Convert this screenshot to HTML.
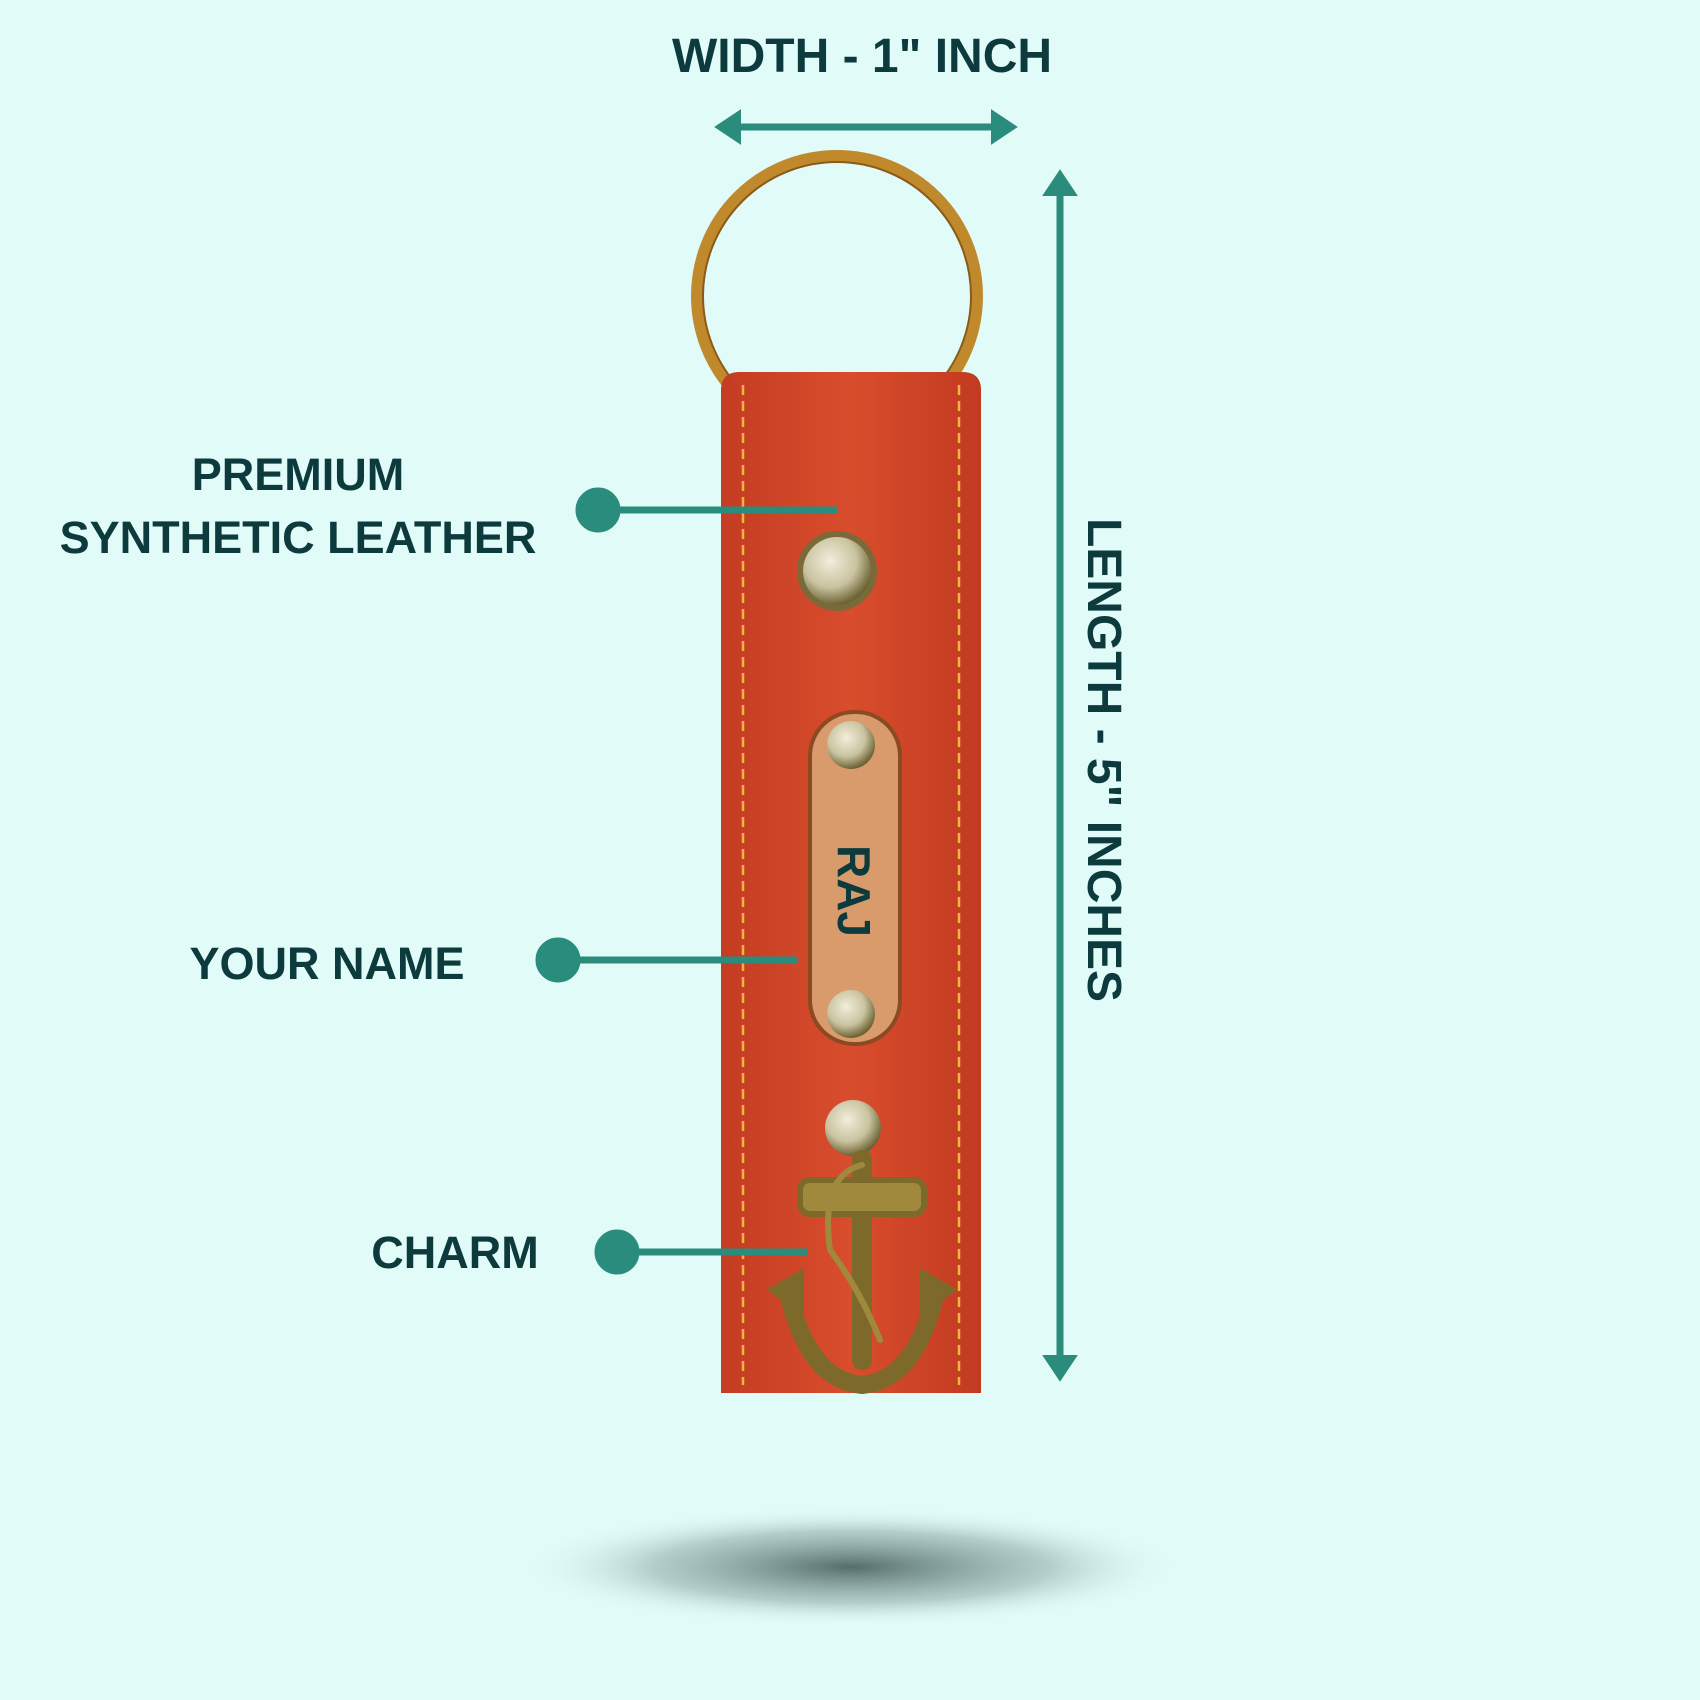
<!DOCTYPE html>
<html><head><meta charset="utf-8"><style>
html,body{margin:0;padding:0;background:#e0fbf8;}
svg{display:block;}
text{font-family:"Liberation Sans",sans-serif;font-weight:bold;fill:#0d3b3d;}
</style></head><body>
<svg width="1700" height="1700" viewBox="0 0 1700 1700" xmlns="http://www.w3.org/2000/svg">
<defs>
<radialGradient id="sh" cx="50%" cy="50%" r="50%">
<stop offset="0" stop-color="#3d5552" stop-opacity="0.85"/>
<stop offset="0.6" stop-color="#6f8a86" stop-opacity="0.4"/>
<stop offset="1" stop-color="#e0fbf8" stop-opacity="0"/>
</radialGradient>
<radialGradient id="rv" cx="40%" cy="35%" r="65%">
<stop offset="0" stop-color="#f1eedb"/>
<stop offset="0.6" stop-color="#c9c3a0"/>
<stop offset="1" stop-color="#6d6435"/>
</radialGradient>
<linearGradient id="st" x1="0" x2="1">
<stop offset="0" stop-color="#c43c22"/>
<stop offset="0.5" stop-color="#d84d2c"/>
<stop offset="1" stop-color="#c23a20"/>
</linearGradient>
</defs>
<rect width="1700" height="1700" fill="#e0fbf8"/>
<ellipse cx="851" cy="1567" rx="330" ry="60" fill="url(#sh)"/>

<!-- ring -->
<circle cx="837" cy="296" r="140" fill="none" stroke="#c08a2c" stroke-width="12"/>
<circle cx="837" cy="296" r="134" fill="none" stroke="#8a5a18" stroke-width="2"/>

<!-- strap -->
<path d="M721 390 Q721 372 740 372 L962 372 Q981 372 981 390 L981 1393 L721 1393 Z" fill="url(#st)"/>
<line x1="743" y1="385" x2="743" y2="1385" stroke="#f2b640" stroke-width="2.5" stroke-dasharray="10 6"/>
<line x1="959" y1="385" x2="959" y2="1385" stroke="#f2b640" stroke-width="2.5" stroke-dasharray="10 6"/>

<!-- rivet 1 -->
<circle cx="837" cy="571" r="40" fill="#7a6a3a"/>
<circle cx="837" cy="571" r="34" fill="url(#rv)"/>

<!-- name plate -->
<rect x="808" y="710" width="94" height="336" rx="46" fill="#8a4a22"/>
<rect x="812" y="714" width="86" height="328" rx="42" fill="#d99a6c"/>
<circle cx="851" cy="745" r="24" fill="url(#rv)"/>
<circle cx="851" cy="1014" r="24" fill="url(#rv)"/>
<text x="0" y="0" font-size="46" transform="translate(838 891) rotate(90)" text-anchor="middle">RAJ</text>

<!-- rivet 4 -->
<circle cx="853" cy="1128" r="28" fill="url(#rv)"/>

<!-- anchor -->
<g fill="none" stroke="#7d6a2a" stroke-linecap="round">
<line x1="862" y1="1160" x2="862" y2="1360" stroke-width="20"/>
<rect x="800" y="1180" width="124" height="34" rx="10" fill="#a0893c" stroke-width="6"/>
<path d="M790 1300 Q810 1380 862 1385 Q914 1380 934 1300" stroke-width="18"/>
<path d="M774 1290 L800 1275 L800 1310 Z M950 1290 L924 1275 L924 1310 Z" fill="#7d6a2a" stroke-width="8"/>
<path d="M862 1165 Q820 1175 830 1250 Q860 1290 880 1340" stroke="#a0893c" stroke-width="6"/>
</g>

<!-- width arrow -->
<g stroke="#2a8c7c" stroke-width="7" fill="#2a8c7c" stroke-linecap="round">
<line x1="728" y1="127" x2="1004" y2="127"/>
<path d="M716 127 L740 111 L740 143 Z" stroke-width="2"/>
<path d="M1016 127 L992 111 L992 143 Z" stroke-width="2"/>
<line x1="1060" y1="183" x2="1060" y2="1368"/>
<path d="M1060 171 L1044 195 L1076 195 Z" stroke-width="2"/>
<path d="M1060 1380 L1044 1356 L1076 1356 Z" stroke-width="2"/>
</g>

<text x="862" y="72" font-size="48" text-anchor="middle">WIDTH - 1" INCH</text>
<text x="0" y="0" font-size="48" transform="translate(1088 760) rotate(90)" text-anchor="middle">LENGTH - 5" INCHES</text>

<!-- labels -->
<text x="298" y="490" font-size="45" text-anchor="middle">PREMIUM</text>
<text x="298" y="553" font-size="45" text-anchor="middle">SYNTHETIC LEATHER</text>
<text x="327" y="979" font-size="45" text-anchor="middle">YOUR NAME</text>
<text x="455" y="1268" font-size="45" text-anchor="middle">CHARM</text>

<g fill="#2a8c7c" stroke="#2a8c7c">
<circle cx="598" cy="510" r="22"/><line x1="598" y1="510" x2="837" y2="510" stroke-width="7"/>
<circle cx="558" cy="960" r="22"/><line x1="558" y1="960" x2="797" y2="960" stroke-width="7"/>
<circle cx="617" cy="1252" r="22"/><line x1="617" y1="1252" x2="808" y2="1252" stroke-width="7"/>
</g>
</svg>
</body></html>
